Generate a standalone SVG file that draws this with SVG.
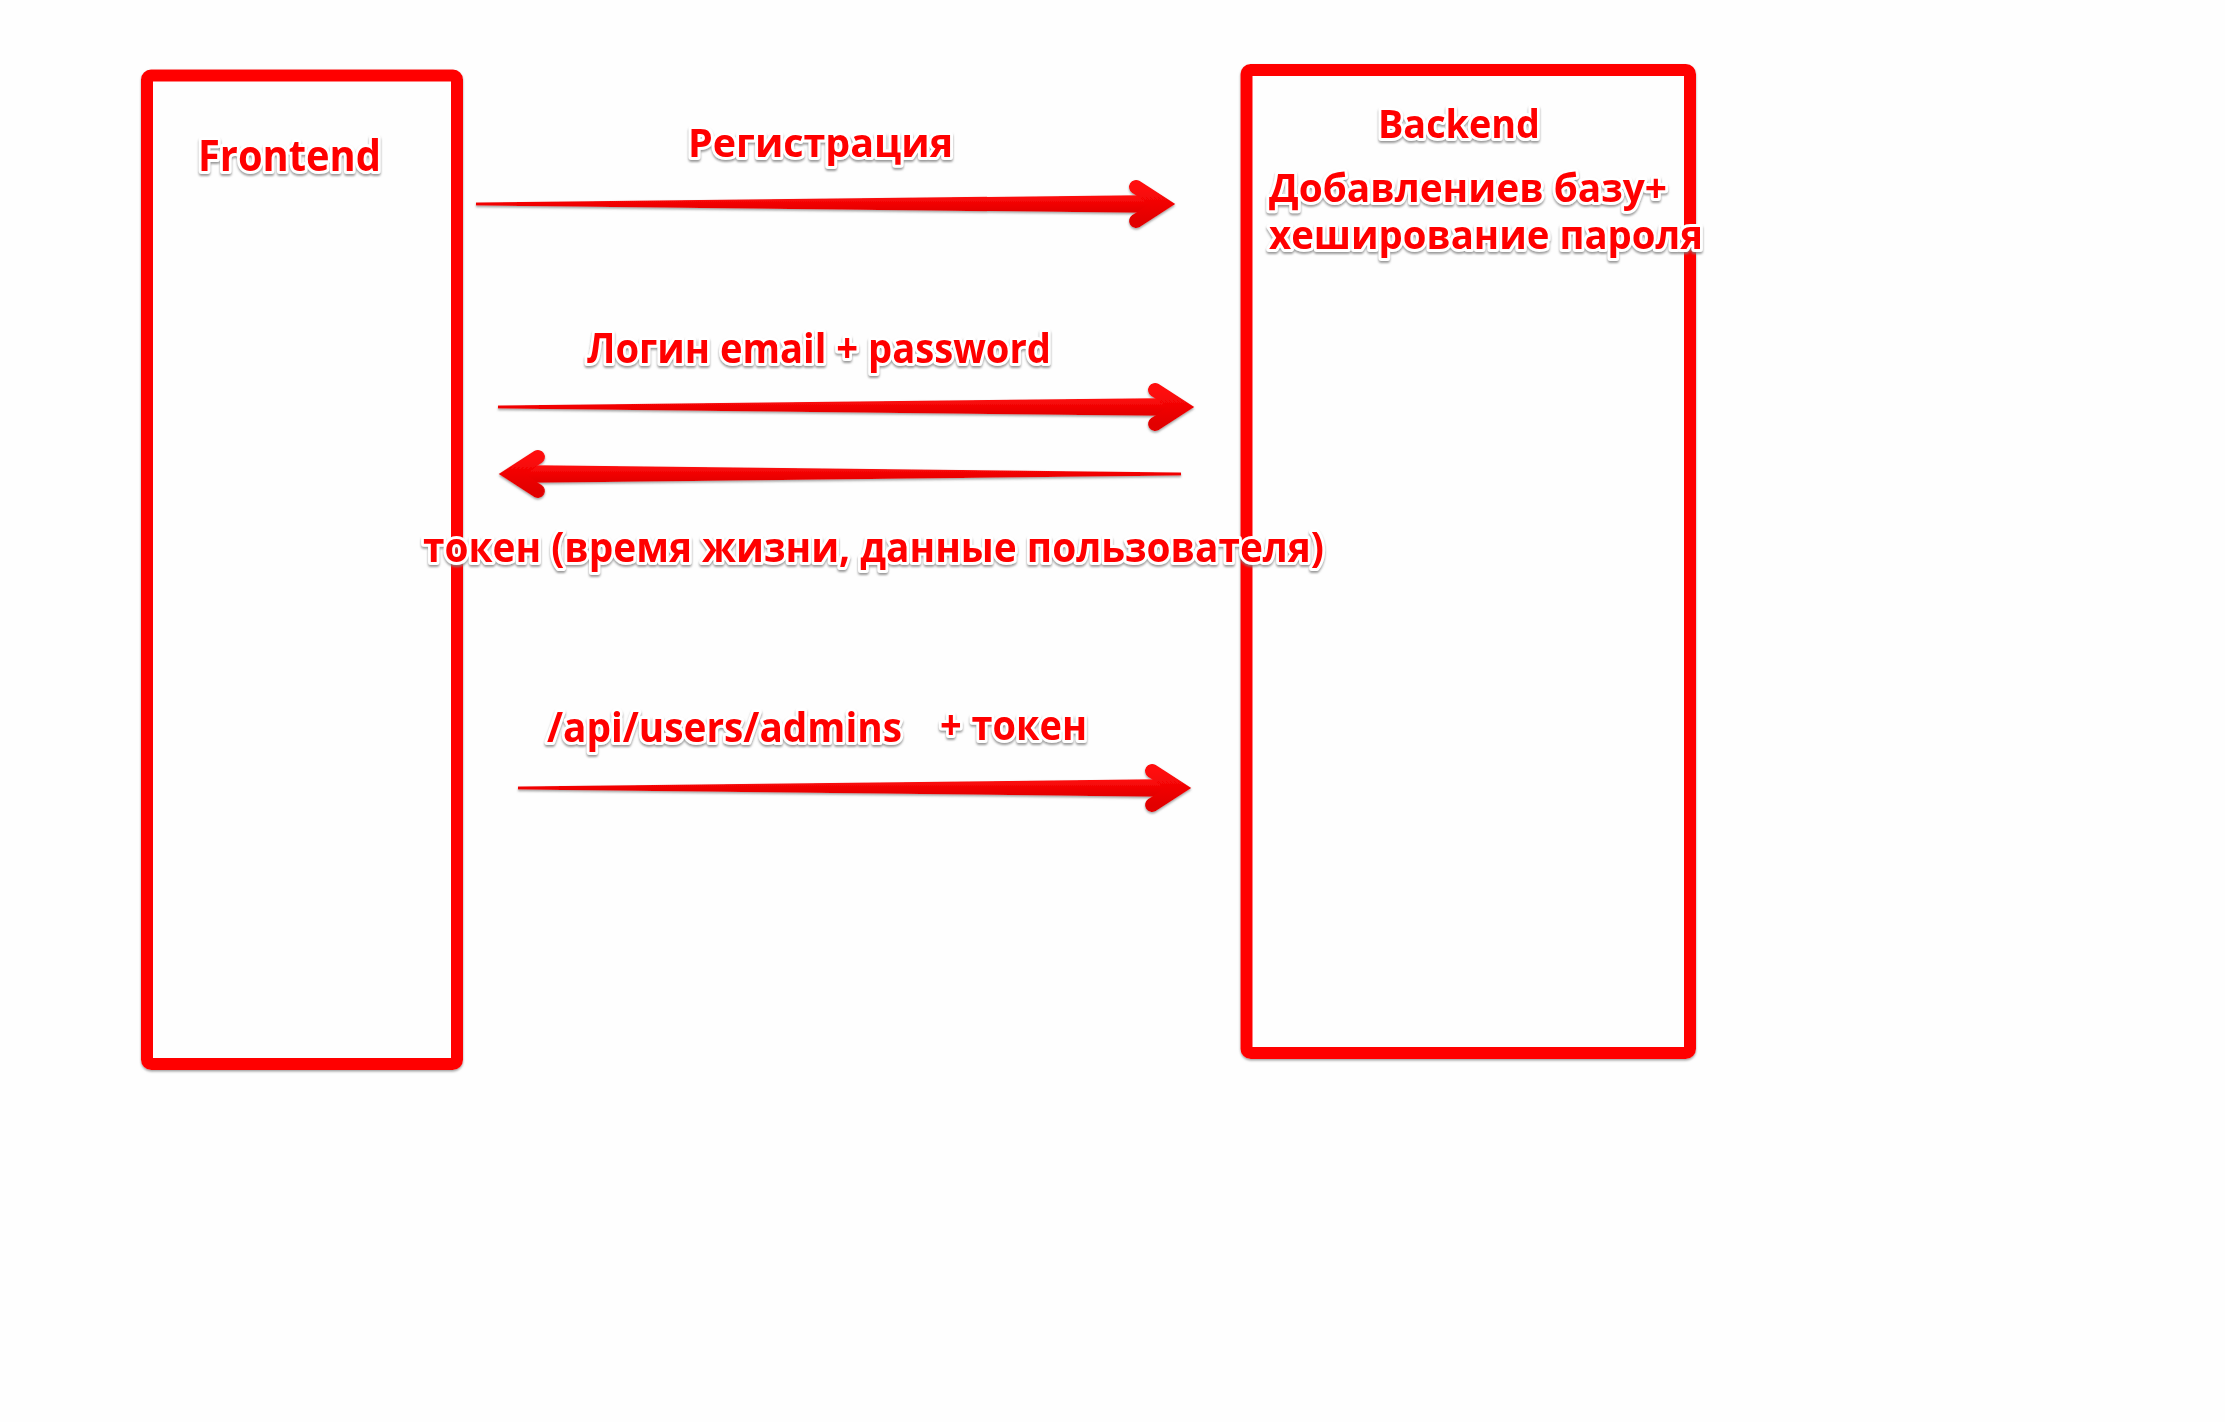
<svg xmlns="http://www.w3.org/2000/svg" width="2225" height="1422" viewBox="0 0 2225 1422">
  <style>
    .box { fill: #fefefe; stroke: #ff0000; stroke-width: 12; }
    .lbl { font-family: "Open Sans", "Noto Sans", "DejaVu Sans", sans-serif; font-weight: 700; fill: #ff0000; stroke: #ffffff; stroke-width: 6; stroke-linejoin: round; paint-order: stroke; }
    .shaft { fill: url(#arrowGrad); }
    .head { fill: none; stroke: url(#arrowGrad); stroke-width: 14; stroke-linecap: round; stroke-linejoin: miter; stroke-miterlimit: 10; }
  </style>
  <defs>
    <linearGradient id="arrowGrad" x1="0" y1="0" x2="0" y2="1">
      <stop offset="0" stop-color="#ff0a0a"/>
      <stop offset="1" stop-color="#e20000"/>
    </linearGradient>
    <filter id="txtShadow" x="-5%" y="-20%" width="110%" height="150%">
      <feDropShadow dx="0" dy="2" stdDeviation="1.2" flood-color="#808080" flood-opacity="0.8"/>
    </filter>
    <filter id="boxShadow" x="-5%" y="-5%" width="110%" height="110%">
      <feDropShadow dx="0" dy="1.5" stdDeviation="1" flood-color="#777777" flood-opacity="0.7"/>
    </filter>
    <g id="head">
      <polyline class="head" points="-40,-17 -13.6,0 -40,17"/>
    </g>
  </defs>

  <rect width="2225" height="1422" fill="#fefefe"/>

  <g id="frontend" filter="url(#boxShadow)">
    <rect class="box" x="147" y="75.5" width="310" height="988.5" rx="4"/>
  </g>
  <g id="backend" filter="url(#boxShadow)">
    <rect class="box" x="1246.5" y="70" width="443.5" height="983" rx="4"/>
  </g>

  <g id="connectors" filter="url(#boxShadow)">
    <g id="arrow-register">
      <path class="shaft" d="M476,202.5 L1158,195 L1158,213 L476,205.5 Z"/>
      <use href="#head" transform="translate(1176,204)"/>
    </g>
    <g id="arrow-login">
      <path class="shaft" d="M498,405.5 L1177,398 L1177,416 L498,408.5 Z"/>
      <use href="#head" transform="translate(1195,407)"/>
    </g>
    <g id="arrow-token">
      <path class="shaft" d="M1181,472.5 L516,465 L516,483 L1181,475.5 Z"/>
      <use href="#head" transform="translate(498,474) scale(-1,1)"/>
    </g>
    <g id="arrow-admins">
      <path class="shaft" d="M518,786.5 L1174,779 L1174,797 L518,789.5 Z"/>
      <use href="#head" transform="translate(1192,788)"/>
    </g>
  </g>

  <g id="labels" filter="url(#txtShadow)">
    <text class="lbl" x="198" y="171" font-size="43" textLength="183" lengthAdjust="spacingAndGlyphs">Frontend</text>
    <text class="lbl" x="688" y="157" font-size="40" textLength="265" lengthAdjust="spacingAndGlyphs">Регистрация</text>
    <text class="lbl" x="1378" y="138" font-size="40" textLength="162" lengthAdjust="spacingAndGlyphs">Backend</text>
    <text class="lbl" x="1269" y="202" font-size="40" textLength="398" lengthAdjust="spacingAndGlyphs">Добавлениев базу+</text>
    <text class="lbl" x="1269" y="249" font-size="40" textLength="434" lengthAdjust="spacingAndGlyphs">хеширование пароля</text>
    <text class="lbl" x="587" y="363" font-size="42" textLength="464" lengthAdjust="spacingAndGlyphs">Логин email + password</text>
    <text class="lbl" x="423" y="562" font-size="42" textLength="901" lengthAdjust="spacingAndGlyphs">токен (время жизни, данные пользователя)</text>
    <text class="lbl" x="547" y="742" font-size="42" textLength="355" lengthAdjust="spacingAndGlyphs">/api/users/admins</text>
    <text class="lbl" x="940" y="740" font-size="42" textLength="147" lengthAdjust="spacingAndGlyphs">+ токен</text>
  </g>
</svg>
